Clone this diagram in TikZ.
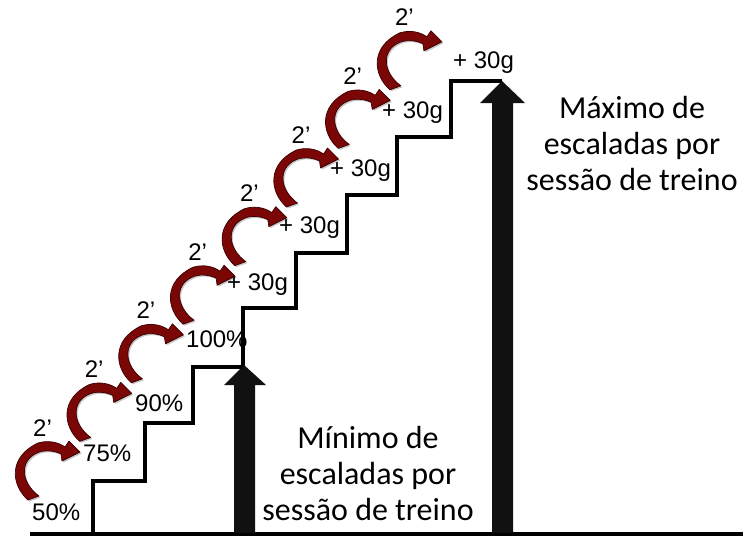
\documentclass[tikz,border=0pt]{standalone}
\usepackage{fontspec}
\setmainfont{Liberation Sans}
\newfontfamily\capfont{Carlito}
\definecolor{arrred}{RGB}{122,6,6}
\definecolor{arredge}{RGB}{60,0,0}
\definecolor{blk}{RGB}{17,17,17}
\begin{document}
\begin{tikzpicture}[x=1pt,y=-1pt,
  lbl/.style={font=\fontsize{24}{28}\selectfont, inner sep=0pt, anchor=base west},
  captext/.style={font=\capfont\fontsize{32}{36}\selectfont, inner sep=0pt, align=center},
  stair/.style={line width=4pt, line join=miter, line cap=rect},
  ground/.style={line width=3.5pt},
  bigarrow/.style={fill=blk},
  curvedarrow/.pic={
    \fill[black, opacity=0.22, shift={(1.5,1.5)}]
      (-5,3) .. controls (-22,-12) and (-25,-40) .. (5,-54)
      .. controls (15,-57) and (25,-55) .. (32,-50)
      -- (36,-56) -- (47,-45) -- (29,-36) -- (28,-43)
      .. controls (20,-47) and (10,-47) .. (4,-44)
      .. controls (-14,-36) and (-12,-14) .. (6,-1) -- cycle;
    \path[fill=arrred, draw=arredge, line width=0.7pt, line join=round]
      (-5,3) .. controls (-22,-12) and (-25,-40) .. (5,-54)
      .. controls (15,-57) and (25,-55) .. (32,-50)
      -- (36,-56) -- (47,-45) -- (29,-36) -- (28,-43)
      .. controls (20,-47) and (10,-47) .. (4,-44)
      .. controls (-14,-36) and (-12,-14) .. (6,-1) -- cycle;
  }
]
\useasboundingbox (0,0) rectangle (743,538);

% ground
\coordinate (gl) at (30,534);
\coordinate (gr) at (743,534);
\draw[ground] (gl) -- (gr);

% staircase
\draw[stair] (93,534) -- (93,481) -- (145,481) -- (145,423) -- (193,423)
  -- (193,367) -- (243,367) -- (243,308) -- (296,308) -- (296,253)
  -- (347,253) -- (347,195) -- (397,195) -- (397,137) -- (451,137)
  -- (451,81) -- (500,81);

% big black arrows
\fill[bigarrow] (234,533) -- (234,385) -- (224,385) -- (244,365) -- (266,385)
  -- (255,385) -- (255,533) -- cycle;
\fill[bigarrow] (492,533) -- (492,103) -- (480,103) -- (502,81) -- (525,103)
  -- (513,103) -- (513,533) -- cycle;

% curved arrows and time labels
\foreach \k in {0,...,7}{
  \pic at ({33+51.7*\k},{497-58.6*\k}) {curvedarrow};
  \node[lbl] (t\k) at ({33+51.7*\k},{436-58.6*\k}) {2’};
}

% load labels
\node[lbl] (p50) at (32,520) {50\%};
\node[lbl] (p75) at (83,461) {75\%};
\node[lbl] (p90) at (135,411) {90\%};
\node[lbl] (p100) at (186,347) {100\%};
\node[lbl] (g1) at (227,290) {+ 30g};
\node[lbl] (g2) at (279,233) {+ 30g};
\node[lbl] (g3) at (330,176) {+ 30g};
\node[lbl] (g4) at (382,118) {+ 30g};
\node[lbl] (g5) at (453,68) {+ 30g};

% captions (base anchor = last line)
\node[captext, anchor=base] (cmin) at (368,520) {Mínimo de\\escaladas por\\sessão de treino};
\node[captext, anchor=base] (cmax) at (632,190) {Máximo de\\escaladas por\\sessão de treino};
\end{tikzpicture}
\end{document}
